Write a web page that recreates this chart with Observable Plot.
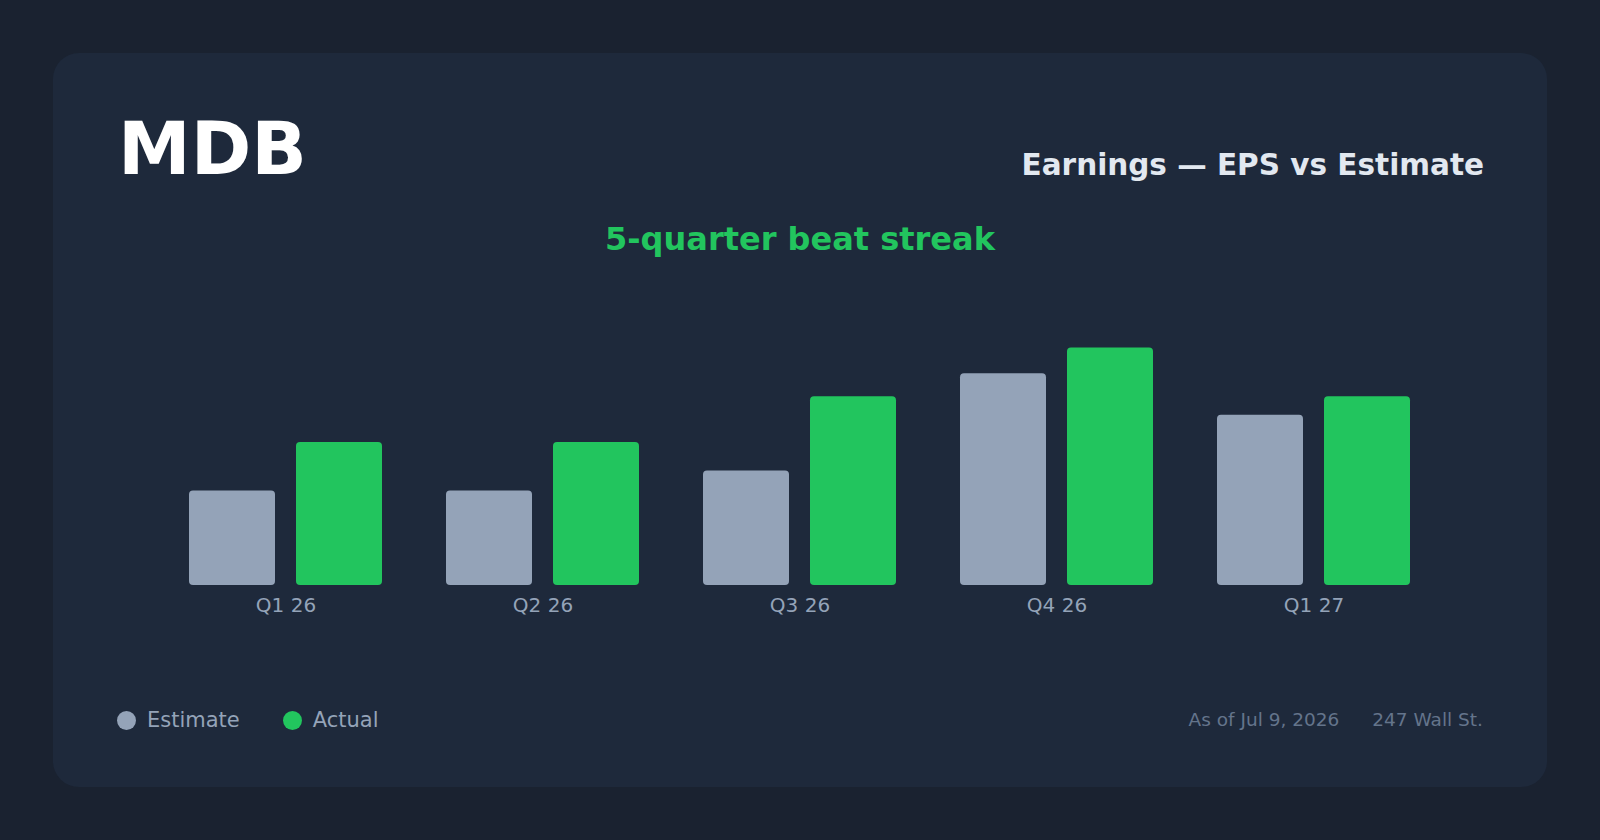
<!DOCTYPE html>
<html>
<head>
<meta charset="utf-8">
<script src="https://cdn.jsdelivr.net/npm/d3@7"></script>
<script src="https://cdn.jsdelivr.net/npm/@observablehq/plot@0.6"></script>
<style>
  html, body { margin: 0; padding: 0; }
  body { width: 1600px; height: 840px; background: #1a2230; position: relative; overflow: hidden; font-family: "DejaVu Sans", sans-serif; }
  .card { position: absolute; left: 53px; top: 53px; width: 1494px; height: 734px; background: #1e293b; border-radius: 26px; }
  .t { position: absolute; line-height: 1; white-space: nowrap; }
  #ticker { left: 118px; top: 112px; font-size: 73px; font-weight: bold; color: #ffffff; }
  #title { right: 116px; top: 151px; font-size: 29.5px; font-weight: bold; color: #e2e8f0; }
  #sub { left: 0; width: 1600px; text-align: center; top: 223px; font-size: 32px; font-weight: bold; color: #22c55e; }
  #chart { position: absolute; left: 0; top: 281px; }
  .legend { position: absolute; left: 117px; top: 708px; display: flex; align-items: center; font-size: 21px; color: #94a3b8; }
  .legend .sw { width: 19px; height: 19px; border-radius: 50%; display: inline-block; margin-right: 11px; }
  .legend .item { display: flex; align-items: center; margin-right: 43px; }
  .foot { position: absolute; right: 117px; top: 711px; font-size: 18.5px; color: #64748b; display: flex; gap: 33px; }
</style>
</head>
<body>
<div class="card"></div>
<div class="t" id="ticker"></div>
<div class="t" id="title"></div>
<div class="t" id="sub"></div>
<div id="chart"></div>
<div class="legend" id="legend"></div>
<div class="foot t" id="foot"></div>
<script>
const ticker = "MDB";
const title = "Earnings — EPS vs Estimate";
const subtitle = "5-quarter beat streak";
const quarters = ["Q1 26", "Q2 26", "Q3 26", "Q4 26", "Q1 27"];
const estimate = [0.66, 0.66, 0.80, 1.48, 1.19];
const actual = [1.00, 1.00, 1.32, 1.66, 1.32];
const seriesNames = ["Estimate", "Actual"];
const seriesColors = ["#94a3b8", "#22c55e"];
const footerNotes = ["As of Jul 9, 2026", "247 Wall St."];

document.getElementById("ticker").textContent = ticker;
document.getElementById("title").textContent = title;
document.getElementById("sub").textContent = subtitle;

const rows = [];
quarters.forEach((q, i) => {
  rows.push({quarter: q, series: "Estimate", value: estimate[i]});
  rows.push({quarter: q, series: "Actual", value: actual[i]});
});

const chart = Plot.plot({
  width: 1600,
  height: 346,
  marginLeft: 189,
  marginRight: 190,
  marginTop: 18,
  marginBottom: 42,
  style: {background: "transparent", fontFamily: "DejaVu Sans, sans-serif", fontSize: "20px", color: "#94a3b8", overflow: "visible"},
  fx: {domain: quarters, paddingInner: 0.25, paddingOuter: 0, label: null},
  x: {domain: seriesNames, paddingInner: 0.2, paddingOuter: 0, axis: null},
  y: {domain: [0, 2], axis: null},
  color: {domain: seriesNames, range: seriesColors},
  marks: [
    Plot.barY(rows, {fx: "quarter", x: "series", y: "value", fill: "series", rx: 4, ry: 4}),
    Plot.axisFx({anchor: "bottom", tickSize: 0, tickPadding: 12, label: null, fill: "#94a3b8", fontSize: 20})
  ]
});
document.getElementById("chart").appendChild(chart);

const legend = document.getElementById("legend");
seriesNames.forEach((s, i) => {
  const item = document.createElement("div");
  item.className = "item";
  const sw = document.createElement("span");
  sw.className = "sw";
  sw.style.background = seriesColors[i];
  const lab = document.createElement("span");
  lab.textContent = s;
  item.appendChild(sw);
  item.appendChild(lab);
  legend.appendChild(item);
});
const foot = document.getElementById("foot");
footerNotes.forEach(n => {
  const sp = document.createElement("span");
  sp.textContent = n;
  foot.appendChild(sp);
});
</script>
</body>
</html>
